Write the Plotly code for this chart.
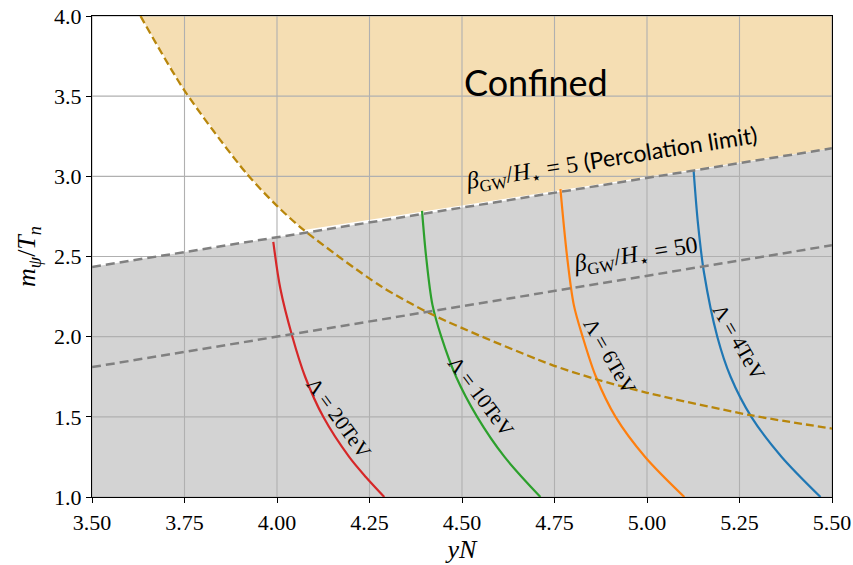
import plotly.graph_objects as go

# ---------------- data ----------------
x_ticks = [3.5, 3.75, 4.0, 4.25, 4.5, 4.75, 5.0, 5.25, 5.5]
x_ticklabels = ["3.50", "3.75", "4.00", "4.25", "4.50", "4.75", "5.00", "5.25", "5.50"]
y_ticks = [1.0, 1.5, 2.0, 2.5, 3.0, 3.5, 4.0]
y_ticklabels = ["1.0", "1.5", "2.0", "2.5", "3.0", "3.5", "4.0"]

perc_x = [3.5, 5.5]          # beta/H = 5 (percolation limit)
perc_y = [2.435, 3.175]
b50_x = [3.5, 5.5]           # beta/H = 50
b50_y = [1.81, 2.57]

gold_x = [3.631, 3.75, 3.919, 4.0, 4.072, 4.28, 4.424, 4.739, 4.865, 5.0, 5.28, 5.5]
gold_y = [4.0, 3.535, 3.014, 2.816, 2.666, 2.316, 2.133, 1.827, 1.733, 1.65, 1.51, 1.427]

red_x = [3.990, 4.009, 4.041, 4.076, 4.125, 4.195, 4.240, 4.290]
red_y = [2.591, 2.3, 2.004, 1.75, 1.5, 1.25, 1.125, 1.0]
green_x = [4.392, 4.403, 4.420, 4.444, 4.484, 4.541, 4.615, 4.712]
green_y = [2.785, 2.5, 2.2, 2.0, 1.75, 1.5, 1.25, 1.0]
orange_x = [4.766, 4.784, 4.802, 4.826, 4.862, 4.915, 4.995, 5.101]
orange_y = [2.92, 2.5, 2.2, 2.0, 1.75, 1.5, 1.25, 1.0]
blue_x = [5.126, 5.138, 5.154, 5.190, 5.226, 5.282, 5.364, 5.469]
blue_y = [3.035, 2.7, 2.4, 2.0, 1.75, 1.5, 1.25, 1.0]

XMIN, XMAX, YMIN, YMAX = 3.5, 5.5, 1.0, 4.0

SERIF = "Liberation Serif, DejaVu Serif, serif"
SANS = "Lato, Liberation Sans, sans-serif"

fig = go.Figure()

# gray region below percolation line
fig.add_trace(go.Scatter(x=perc_x, y=perc_y, mode="lines", line=dict(width=0),
                         fill="tozeroy", fillcolor="#d3d3d3", hoverinfo="skip", showlegend=False))

# confined region (above percolation line, right of gold curve)
gx = [x for x in gold_x if x <= 4.072]
gy = gold_y[:len(gx)]
cx = [gx[-1], perc_x[1], XMAX, gx[0]] + gx
cy = [gy[-1], perc_y[1], YMAX, YMAX] + gy
fig.add_trace(go.Scatter(x=cx, y=cy, mode="lines", line=dict(width=0),
                         fill="toself", fillcolor="#f5deb3", hoverinfo="skip", showlegend=False))

# grid lines drawn above fills, below lines
grid_x, grid_y = [], []
for xv in x_ticks:
    grid_x += [xv, xv, None]
    grid_y += [YMIN, YMAX, None]
for yv in y_ticks:
    grid_x += [XMIN, XMAX, None]
    grid_y += [yv, yv, None]
fig.add_trace(go.Scatter(x=grid_x, y=grid_y, mode="lines",
                         line=dict(color="#b0b0b0", width=1.1), hoverinfo="skip", showlegend=False))

# colored curves
for xs, ys, col in [(red_x, red_y, "#d62728"), (green_x, green_y, "#2ca02c"),
                    (orange_x, orange_y, "#ff7f0e"), (blue_x, blue_y, "#1f77b4")]:
    fig.add_trace(go.Scatter(x=xs, y=ys, mode="lines",
                             line=dict(color=col, width=2.2, shape="spline", smoothing=0.9),
                             hoverinfo="skip", showlegend=False))

# dashed lines
fig.add_trace(go.Scatter(x=gold_x, y=gold_y, mode="lines",
                         line=dict(color="#b8860b", width=2.3, dash="8px,4px", shape="spline", smoothing=0.8),
                         hoverinfo="skip", showlegend=False))
for xs, ys in [(perc_x, perc_y), (b50_x, b50_y)]:
    fig.add_trace(go.Scatter(x=xs, y=ys, mode="lines",
                             line=dict(color="#808080", width=2.5, dash="9px,5px"),
                             hoverinfo="skip", showlegend=False))

beta = "<i>β</i><sub>GW</sub>/<i>H</i><sub>⋆</sub> = "
annots = [
    dict(x=4.70, y=3.59, text="Confined", font=dict(family=SANS, size=36, color="black"), textangle=0),
    dict(x=4.905, y=3.108,
         text=beta + "5 <span style='font-family:Lato, sans-serif;font-size:23px'>(Percolation limit)</span>",
         font=dict(family=SERIF, size=24, color="black"), textangle=-9),
    dict(x=4.969, y=2.504, text=beta + "50", font=dict(family=SERIF, size=24, color="black"), textangle=-9),
    dict(x=4.167, y=1.494, text="Λ = 20TeV", font=dict(family=SERIF, size=21, color="black"), textangle=54),
    dict(x=4.55, y=1.629, text="Λ = 10TeV", font=dict(family=SERIF, size=21, color="black"), textangle=53),
    dict(x=4.899, y=1.879, text="Λ = 6TeV", font=dict(family=SERIF, size=21, color="black"), textangle=60),
    dict(x=5.248, y=1.966, text="Λ = 4TeV", font=dict(family=SERIF, size=21, color="black"), textangle=60),
]
for a in annots:
    fig.add_annotation(xref="x", yref="y", showarrow=False, **a)

axis_common = dict(showgrid=False, zeroline=False, showline=True, linecolor="black", linewidth=1.3,
                   mirror=True, ticks="outside", ticklen=5, tickwidth=1.2, tickcolor="black",
                   automargin=False, ticklabeloverflow="allow",
                   tickfont=dict(family=SERIF, size=22, color="black"))
fig.update_xaxes(range=[XMIN, XMAX], tickvals=x_ticks, ticktext=x_ticklabels,
                 title=dict(text="<i>yN</i>", font=dict(family=SERIF, size=26, color="black"), standoff=4),
                 **axis_common)
fig.update_yaxes(range=[YMIN, YMAX], tickvals=y_ticks, ticktext=y_ticklabels,
                 title=dict(text="<i>m</i><sub><i>ψ</i></sub>/<i>T</i><sub><i>n</i></sub>",
                            font=dict(family=SERIF, size=26, color="black"), standoff=10),
                 **axis_common)

fig.update_layout(width=853, height=565, margin=dict(l=92, r=21, t=16, b=68),
                  plot_bgcolor="white", paper_bgcolor="white", showlegend=False)

# remove the default 8px page margin so the figure fills the window exactly
fig.write_html("out.html", config={"displayModeBar": False},
               post_script="document.body.style.margin='0';document.body.style.overflow='hidden';")
